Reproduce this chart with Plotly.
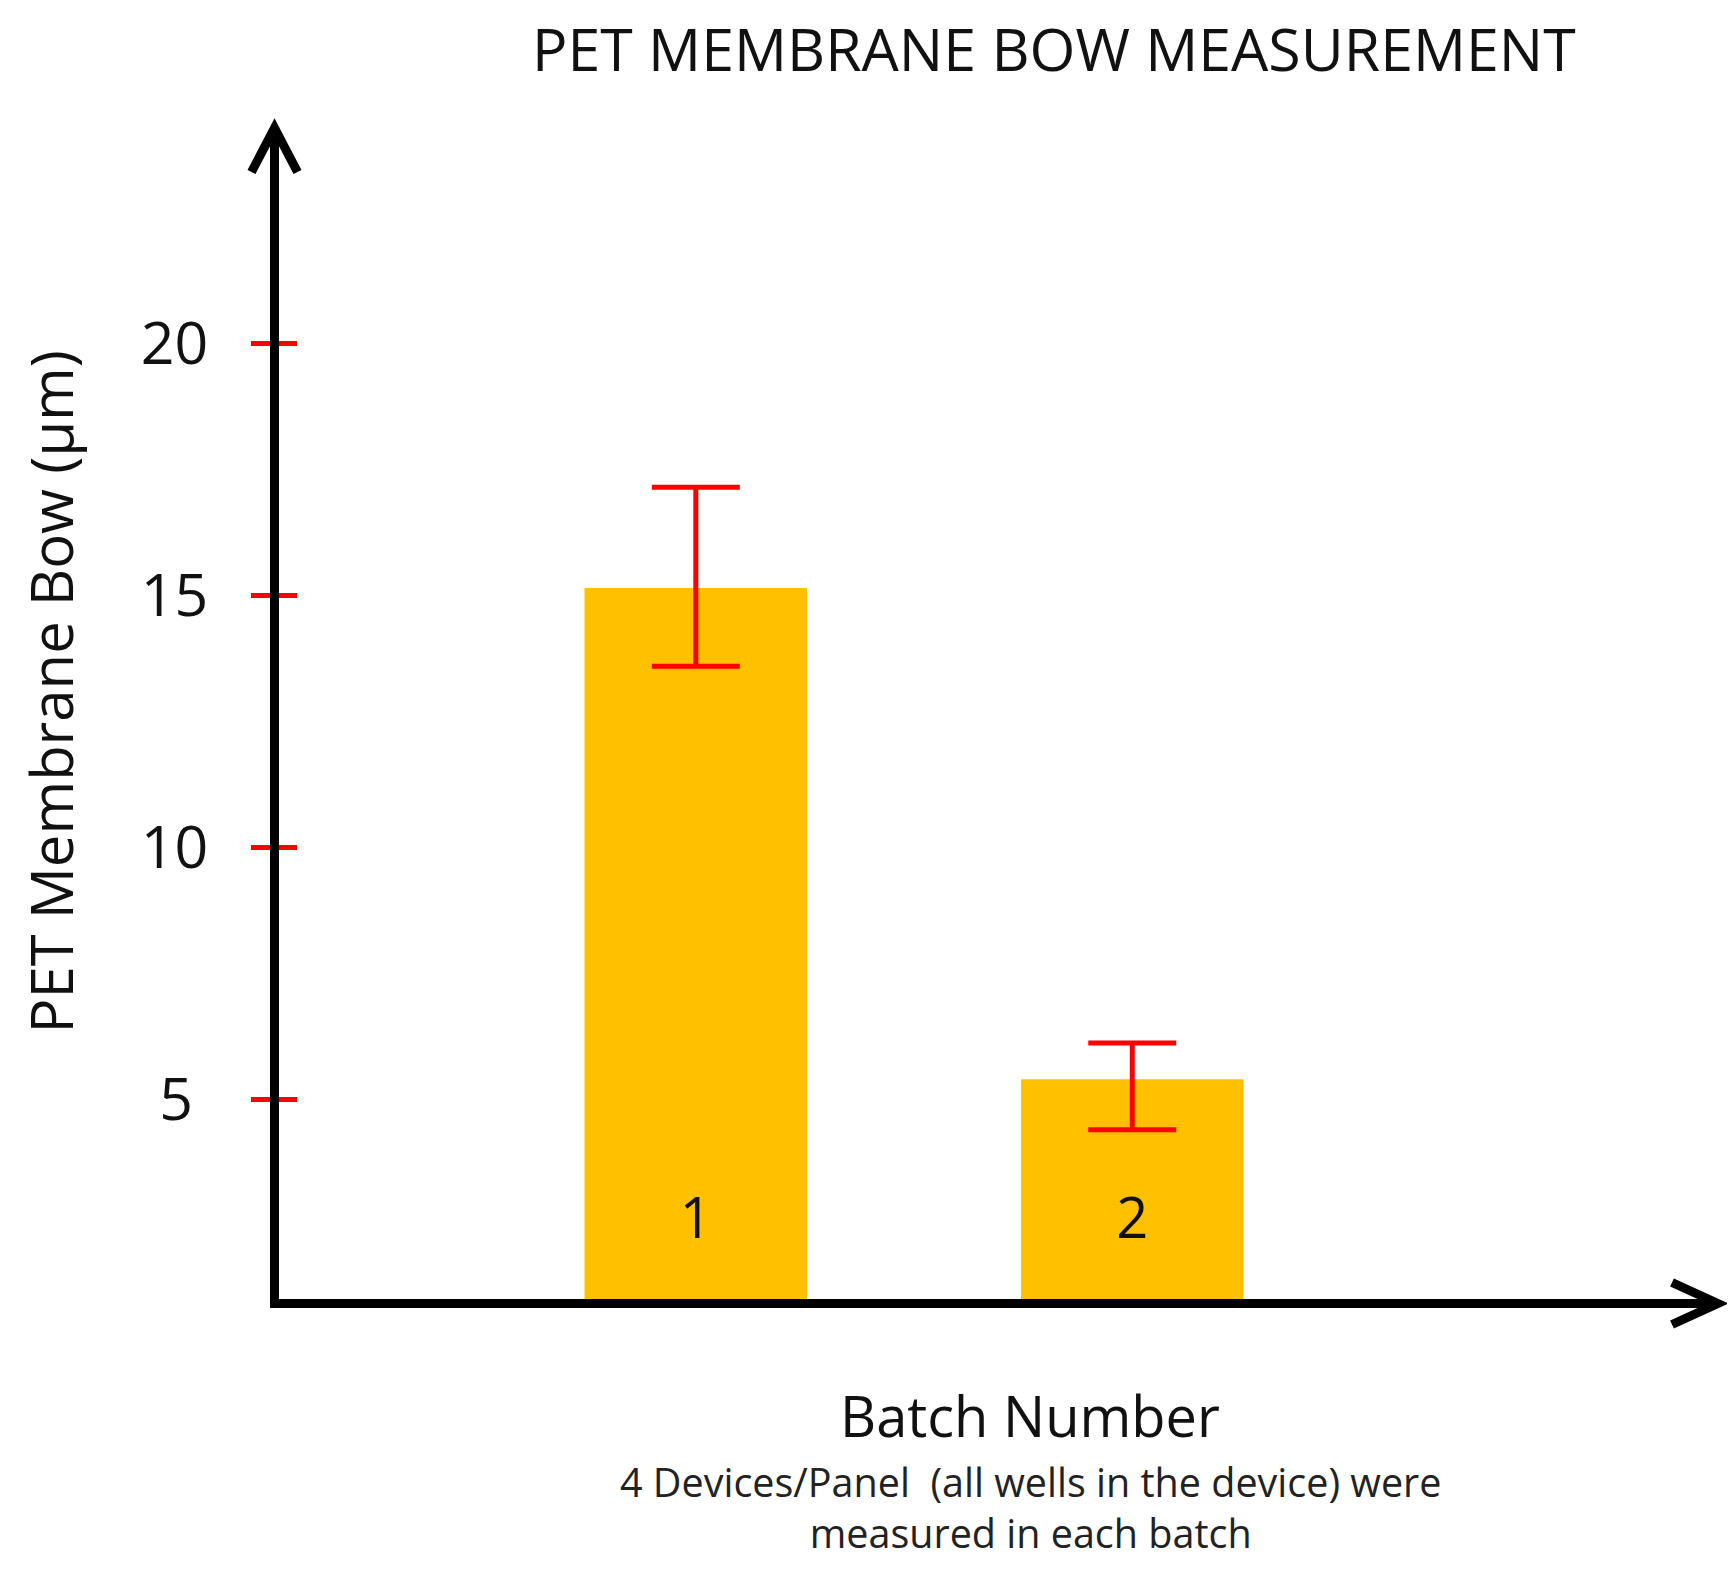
import plotly.graph_objects as go

# data
batches = ["1", "2"]
mean_bow = [15.15, 5.4]
err_plus = [2.0, 0.72]
err_minus = [1.55, 1.0]

y_tick_vals = [5, 10, 15, 20]
y_tick_text = ["5\u00a0", "10", "15", "20"]

title_text = "PET MEMBRANE BOW MEASUREMENT"
y_title = "PET Membrane Bow (μm)"
x_title = "Batch Number"
x_note = "4 Devices/Panel  (all wells in the device) were<br>measured in each batch"

FONT = "Open Sans"
GOLD = "#FFC000"
RED = "#FF0000"

# page body has an 8px margin, so the figure is a bit smaller than the window
W, H = 1727, 1572
Y_RANGE = [1.04, 24.28]

fig = go.Figure()

fig.add_trace(go.Bar(
    x=batches,
    y=mean_bow,
    width=0.51,
    marker=dict(color=GOLD, line=dict(width=0)),
    error_y=dict(type="data", symmetric=False, array=err_plus, arrayminus=err_minus,
                 color=RED, thickness=5, width=44),
    showlegend=False,
))

# y ticks drawn on both sides of the axis: second axis carries the inside half
fig.add_trace(go.Scatter(x=[None], y=[None], yaxis="y2", showlegend=False))

fig.update_layout(
    width=W,
    height=H,
    margin=dict(l=271, r=17, t=120, b=281),
    plot_bgcolor="white",
    paper_bgcolor="white",
    font=dict(family=FONT, color="#111111"),
    xaxis=dict(type="category", range=[-0.955, 2.342], showgrid=False, zeroline=False,
               showline=True, linecolor="black", linewidth=9,
               ticks="", ticklabelposition="inside", ticklabelstandoff=58,
               tickfont=dict(size=56, family=FONT, color="#111111")),
    yaxis=dict(range=Y_RANGE, showgrid=False, zeroline=False,
               showline=True, linecolor="black", linewidth=9,
               tickvals=y_tick_vals, ticktext=y_tick_text,
               ticks="outside", ticklen=19, tickwidth=5, tickcolor=RED,
               ticklabelstandoff=31,
               tickfont=dict(size=59, family=FONT, color="#111111")),
    yaxis2=dict(range=Y_RANGE, overlaying="y", side="left", anchor="x",
                showgrid=False, zeroline=False, showline=False,
                tickvals=y_tick_vals, showticklabels=False,
                ticks="inside", ticklen=18, tickwidth=5, tickcolor=RED),
)

# title as a plain annotation placed above the plot area
fig.add_annotation(text=title_text, xref="paper", yref="paper",
                   x=(1046 - 271) / (W - 271 - 17), y=1, yshift=80,
                   xanchor="center", yanchor="middle", showarrow=False,
                   font=dict(size=59, family=FONT, color="#111111"))

# arrow heads on the axes (axis lines sit 4.5px outside the plot edges)
fig.add_shape(type="path", xref="paper", yref="paper", xsizemode="pixel", ysizemode="pixel",
              xanchor=0, yanchor=1, path="M-27.5,-44 L-4.5,0 L18.5,-44",
              line=dict(color="black", width=9))
fig.add_shape(type="path", xref="paper", yref="paper", xsizemode="pixel", ysizemode="pixel",
              xanchor=1, yanchor=0, path="M-46,16.5 L0,-4.5 L-46,-25.5",
              line=dict(color="black", width=9))

fig.add_annotation(text=y_title, textangle=-90, xref="paper", yref="paper",
                   x=0, xshift=-229, y=0.518, xanchor="center", yanchor="middle",
                   showarrow=False,
                   font=dict(size=58, family=FONT, color="#111111"))
fig.add_annotation(text=x_title, xref="paper", yref="paper", x=0.522, y=-0.0988,
                   yanchor="middle", showarrow=False,
                   font=dict(size=56, family=FONT, color="#111111"))
fig.add_annotation(text=x_note, xref="paper", yref="paper", x=0.522, y=-0.178,
                   yanchor="middle", showarrow=False,
                   font=dict(size=39.5, family=FONT, color="#222222"))

fig.write_html("out.html")
